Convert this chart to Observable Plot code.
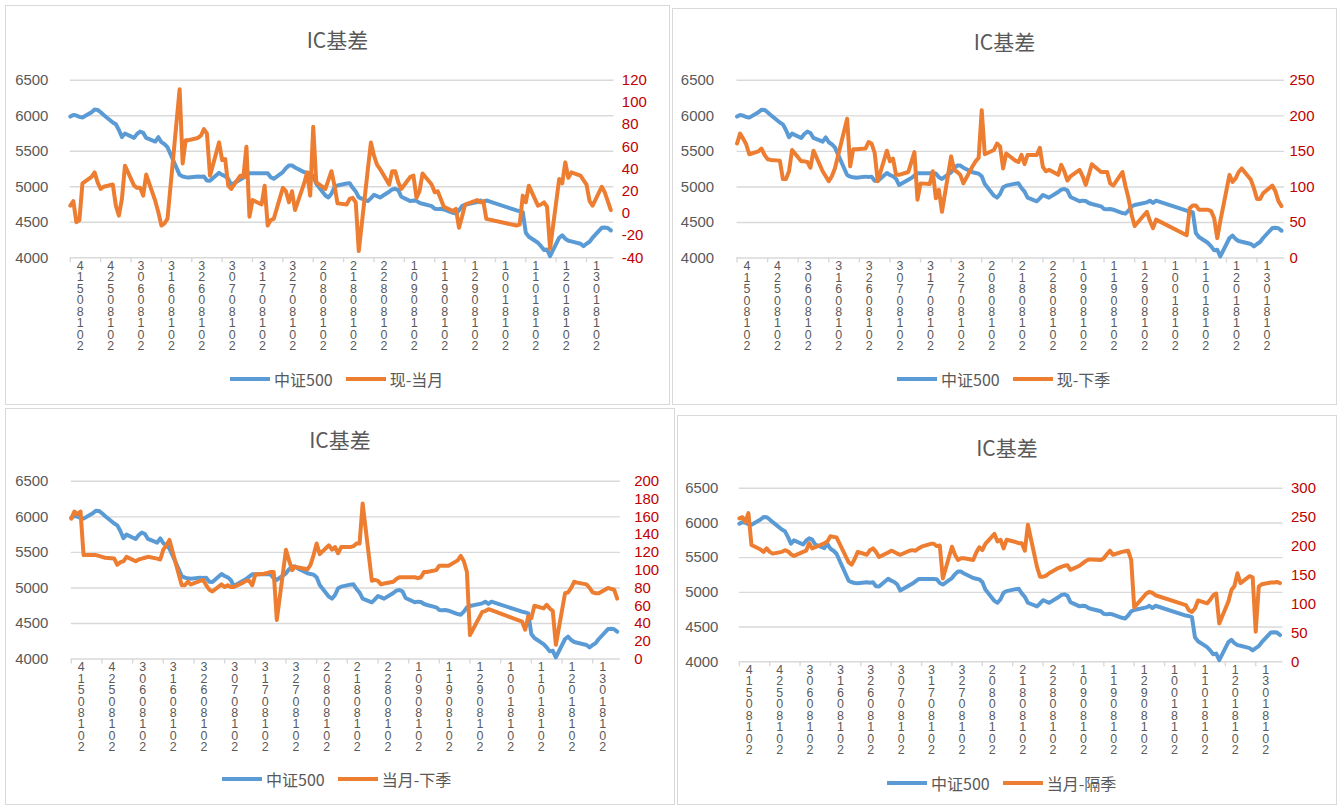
<!DOCTYPE html>
<html><head><meta charset="utf-8">
<script src="https://cdn.jsdelivr.net/npm/d3@7"></script>
<script src="https://cdn.jsdelivr.net/npm/@observablehq/plot@0.6"></script>
<style>
body{margin:0;background:#fff;font-family:"Noto Sans CJK SC","Noto Sans",sans-serif;}
#root{position:relative;width:1340px;height:805px;overflow:hidden;background:#fff}
.panel{position:absolute;border:1px solid #d9d9d9;box-sizing:border-box;background:#fff}
.panel svg{position:absolute;left:-1px;top:-1px}
.title{position:absolute;left:0;right:0;text-align:center;font-size:21px;line-height:28px;color:#595959}
.legend{position:absolute;display:flex;align-items:center;font-size:16px;line-height:22px;color:#595959;white-space:nowrap}
.sw{display:inline-block;width:40px;height:4px;margin-right:4px}
</style></head><body><div id="root"></div>
<script>
// ---------------- data ----------------
const dates = [
 "2018-05-14","2018-05-15","2018-05-16","2018-05-17","2018-05-18",
 "2018-05-21","2018-05-22","2018-05-23","2018-05-24","2018-05-25",
 "2018-05-28","2018-05-29","2018-05-30","2018-05-31","2018-06-01",
 "2018-06-04","2018-06-05","2018-06-06","2018-06-07","2018-06-08",
 "2018-06-11","2018-06-12","2018-06-13","2018-06-14","2018-06-15",
 "2018-06-19","2018-06-20","2018-06-21","2018-06-22",
 "2018-06-25","2018-06-26","2018-06-27","2018-06-28","2018-06-29",
 "2018-07-02","2018-07-03","2018-07-04","2018-07-05","2018-07-06",
 "2018-07-09","2018-07-10","2018-07-11","2018-07-12","2018-07-13",
 "2018-07-16","2018-07-17","2018-07-18","2018-07-19","2018-07-20",
 "2018-07-23","2018-07-24","2018-07-25","2018-07-26","2018-07-27",
 "2018-07-30","2018-07-31","2018-08-01","2018-08-02","2018-08-03",
 "2018-08-06","2018-08-07","2018-08-08","2018-08-09","2018-08-10",
 "2018-08-13","2018-08-14","2018-08-15","2018-08-16","2018-08-17",
 "2018-08-20","2018-08-21","2018-08-22","2018-08-23","2018-08-24",
 "2018-08-27","2018-08-28","2018-08-29","2018-08-30","2018-08-31",
 "2018-09-03","2018-09-04","2018-09-05","2018-09-06","2018-09-07",
 "2018-09-10","2018-09-11","2018-09-12","2018-09-13","2018-09-14",
 "2018-09-17","2018-09-18","2018-09-19","2018-09-20","2018-09-21",
 "2018-09-25","2018-09-26","2018-09-27","2018-09-28",
 "2018-10-08","2018-10-09","2018-10-10","2018-10-11","2018-10-12",
 "2018-10-15","2018-10-16","2018-10-17","2018-10-18","2018-10-19",
 "2018-10-22","2018-10-23","2018-10-24","2018-10-25","2018-10-26",
 "2018-10-29","2018-10-30","2018-10-31","2018-11-01","2018-11-02",
 "2018-11-05","2018-11-06","2018-11-07","2018-11-08"
];

const csi500 = [
 5989,6012,6003,5984,5975, 6050,6087,6083,6050,6012, 5905,5880,5800,5700,5750,
 5689,5745,5778,5759,5689, 5637,5698,5628,5600,5557, 5168,5145,5135,5130,
 5145,5140,5145,5088,5084, 5196,5168,5149,5112,5027, 5102,5126,5159,5191,5191,
 5191,5191,5190,5135,5112, 5206,5262,5300,5300,5271, 5206,5196,5187,5150,5041,
 4877,4849,4901,4995,5018, 5046,5051,4985,4934,4850, 4798,4840,4887,4868,4849,
 4929,4962,4971,4952,4859, 4798,4807,4802,4774,4760, 4727,4690,4685,4690,4680,
 4633,4624,4666,4727,4746, 4783,4807,4774,4807,
 4666,4657,4643,4352,4296, 4211,4164,4108,4117,4023, 4282,4315,4268,4240,4230,
 4197,4164,4197,4225,4282, 4422,4425,4420,4385
];

const spotMinusFront = [
 7,11,-8,-6,27, 33,37,28,22,24, 26,7,-2,13,43,
 25,23,23,16,35, 11,1,-11,-9,-5, 112,45,66,66,
 68,70,76,72,34, 64,48,49,25,22, 34,33,60,-3,12,
 8,25,-11,-6,-5, 23,20,10,20,3, 27,37,16,78,28,
 22,30,38,25,9, 8,13,14,10,-34, 40,64,52,44,40,
 26,38,38,28,22, 33,34,14,20,36, 26,19,20,13,6,
 2,4,-13,-3,8, 12,10,11,-5,
 -11,-10,16,10,25, 7,8,10,6,-32, 31,27,46,32,37,
 34,30,26,11,7, 24,19,11,3
];

const spotMinusNextQ = [
 161,175,168,160,146, 150,154,145,139,138, 137,111,111,122,152,
 136,136,135,127,151, 122,115,108,115,126, 196,129,153,153,
 154,163,161,148,108, 151,136,140,117,117, 121,135,149,82,105,
 104,122,84,96,65, 143,124,121,117,105, 129,136,141,208,146,
 152,161,157,126,147, 137,135,145,132,145, 145,155,128,122,124,
 117,131,122,109,115, 124,115,103,117,132, 121,121,121,105,102,
 121,101,84,61,45, 65,52,42,54,
 32,70,74,74,68, 68,66,56,28,52, 117,107,112,121,126,
 110,98,83,83,91, 102,94,80,73
];

const frontMinusNextQ = [
 158,166,163,166,117, 117,117,116,115,114, 113,106,109,110,115,
 110,112,113,114,115, 113,112,123,128,134, 83,83,87,84,
 88,89,83,78,76, 84,81,83,81,81, 86,88,88,83,95,
 96,97,98,98,44, 123,111,100,104,103, 101,106,117,130,118,
 128,123,126,119,126, 126,127,130,130,175, 88,89,88,84,85,
 87,90,92,92,92, 92,91,92,98,98, 100,105,105,105,105,
 111,116,110,98,27, 53,54,56,55,
 42,33,48,46,60, 57,61,57,54,16, 74,75,80,87,86,
 84,80,75,74,74, 80,79,78,68
];

const frontMinusFarQ = [
 248,250,242,257,202, 194,190,196,190,187, 190,193,191,186,183,
 190,192,205,196,198, 205,208,217,216,215, 172,168,178,190,
 185,193,196,190,181, 189,192,190,187,185, 192,193,192,196,199,
 204,204,200,201,144, 199,185,176,179,179, 176,189,198,193,204,
 221,208,211,196,211, 207,205,205,192,237, 164,147,147,149,153,
 162,164,166,167,159, 166,170,174,177,177, 176,179,186,192,185,
 190,191,192,176,94, 118,121,119,115,
 98,89,86,92,106, 101,107,115,118,66, 104,124,131,153,136,
 148,146,52,130,134, 137,137,138,136
];

const leftTicks = [4000, 4500, 5000, 5500, 6000, 6500];
const rightTicks1 = [-40, -20, 0, 20, 40, 60, 80, 100, 120];
const rightTicks2 = [0, 50, 100, 150, 200, 250];
const rightTicks3 = [0, 20, 40, 60, 80, 100, 120, 140, 160, 180, 200];
const rightTicks4 = [0, 50, 100, 150, 200, 250, 300];
const tickDates = ["2018-05-14","2018-05-24","2018-06-03","2018-06-13","2018-06-23","2018-07-03",
 "2018-07-13","2018-07-23","2018-08-02","2018-08-12","2018-08-22","2018-09-01","2018-09-11",
 "2018-09-21","2018-10-01","2018-10-11","2018-10-21","2018-10-31"];
const xDomain = ["2018-05-14", "2018-11-09"];
const titleText = "IC基差";
const indexName = "中证500";
const basisNames = ["现-当月", "现-下季", "当月-下季", "当月-隔季"];

// ---------------- layout (pixel positions on the page) ----------------
const panels = [
 {series: spotMinusFront, name: basisNames[0], rt: rightTicks1,
  left: 5, top: 5, w: 665, h: 400, x0: 70, x1: 615.2, yT: 80, yB: 258, padL: 22, padR: 8,
  titleTop: 19, legLeft: 224, legTop: 362},
 {series: spotMinusNextQ, name: basisNames[1], rt: rightTicks2,
  left: 672, top: 8, w: 665, h: 397, x0: 736.7, x1: 1285.9, yT: 80, yB: 258.3, padL: 23, padR: 5,
  titleTop: 18, legLeft: 224, legTop: 359},
 {series: frontMinusNextQ, name: basisNames[2], rt: rightTicks3,
  left: 5, top: 408, w: 670, h: 397, x0: 71, x1: 621.6, yT: 481, yB: 659.3, padL: 23, padR: 14,
  titleTop: 16, legLeft: 216, legTop: 359},
 {series: frontMinusFarQ, name: basisNames[3], rt: rightTicks4,
  left: 677, top: 415, w: 660, h: 390, x0: 739, x1: 1284.4, yT: 488, yB: 662, padL: 21, padR: 8,
  titleTop: 17, legLeft: 209, legTop: 356}
];

const BLUE = "#5B9BD5", ORANGE = "#ED7D31", GRID = "#D9D9D9", TXT = "#595959", RED = "#C00000";
const root = document.getElementById("root");
const fmtStack = d3.utcFormat("%Y%m%d");

panels.forEach(p => {
  const div = document.createElement("div");
  div.className = "panel";
  Object.assign(div.style, {left: p.left + "px", top: p.top + "px", width: p.w + "px", height: p.h + "px"});
  root.appendChild(div);

  const lMin = leftTicks[0], lMax = leftTicks[leftTicks.length - 1];
  const rMin = p.rt[0], rMax = p.rt[p.rt.length - 1];
  const toLeft = r => lMin + (r - rMin) / (rMax - rMin) * (lMax - lMin);
  const toRight = v => rMin + (v - lMin) / (lMax - lMin) * (rMax - rMin);

  const rows = dates.map((d, i) => ({date: new Date(d), idx: csi500[i], basis: toLeft(p.series[i])}));
  const tickD = tickDates.map(d => new Date(d));

  const chart = Plot.plot({
    width: p.w, height: p.h,
    marginLeft: p.x0 - p.left, marginRight: p.left + p.w - p.x1,
    marginTop: p.yT - p.top, marginBottom: p.top + p.h - p.yB,
    style: {fontFamily: "'Liberation Sans','Noto Sans',sans-serif", fontSize: "15px", background: "transparent", overflow: "visible"},
    x: {type: "utc", domain: xDomain.map(d => new Date(d))},
    y: {domain: [lMin, lMax]},
    marks: [
      Plot.ruleY(leftTicks, {stroke: GRID, strokeWidth: 1.4}),
      Plot.axisY({ticks: leftTicks, tickSize: 0, tickPadding: p.padL, tickFormat: d => String(d),
                  fill: TXT, fontSize: 15, label: null}),
      Plot.axisY({anchor: "right", ticks: p.rt.map(toLeft), tickSize: 0, tickPadding: p.padR,
                  tickFormat: v => String(Math.round(toRight(v))), textAnchor: "start",
                  fill: RED, fontSize: 15, label: null}),
      Plot.axisX({ticks: tickD, tickSize: 5, stroke: GRID, strokeWidth: 1.4, tickFormat: () => "", label: null}),
      Plot.axisX({ticks: tickD, tickSize: 0, tickPadding: 4, dx: 10, lineHeight: 0.92, fontSize: 12.5,
                  fill: TXT, label: null,
                  tickFormat: d => fmtStack(d).split("").reverse().join("\n")}),
      Plot.lineY(rows, {x: "date", y: "idx", stroke: BLUE, strokeWidth: 4,
                        strokeLinejoin: "round", strokeLinecap: "round"}),
      Plot.lineY(rows, {x: "date", y: "basis", stroke: ORANGE, strokeWidth: 4,
                        strokeLinejoin: "round", strokeLinecap: "round"})
    ]
  });
  div.appendChild(chart);

  const t = document.createElement("div");
  t.className = "title";
  t.style.top = p.titleTop + "px";
  t.textContent = titleText;
  div.appendChild(t);

  const lg = document.createElement("div");
  lg.className = "legend";
  lg.style.left = p.legLeft + "px";
  lg.style.top = p.legTop + "px";
  lg.innerHTML = `<span class="sw" style="background:${BLUE}"></span><span>${indexName}</span>` +
                 `<span class="sw" style="background:${ORANGE};margin-left:13px"></span><span>${p.name}</span>`;
  div.appendChild(lg);
});
</script></body></html>
